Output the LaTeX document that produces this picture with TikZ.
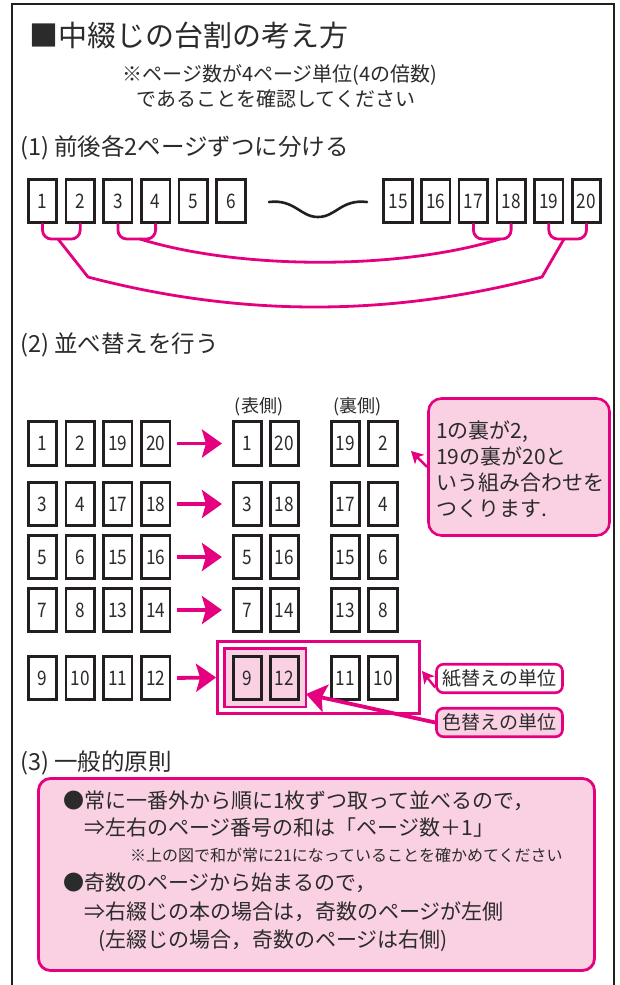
\documentclass[tikz,border=0pt]{standalone}
\usepackage{fontspec}
\setmainfont{Noto Sans CJK JP}
\newfontfamily\numfont[FakeStretch=0.86]{Noto Sans CJK JP}
\usetikzlibrary{arrows.meta,calc}
\definecolor{mag}{HTML}{E4007F}
\definecolor{pinkfill}{HTML}{F9D1E3}
\definecolor{ink}{HTML}{2B2B2B}
\definecolor{boxink}{HTML}{231F20}
\begin{document}
\begin{tikzpicture}[x=1pt, y=-1pt,
  every node/.style={text=ink},
  pagebox/.style={draw=boxink, line width=2.6pt, minimum width=28.5pt, minimum height=43.5pt, inner sep=0pt, font=\numfont\fontsize{20}{20}\selectfont},
  conn/.style={draw=mag, line width=2.8pt, line cap=round, line join=round},
  bigarrow/.style={draw=mag, line width=3.8pt, -{Stealth[length=20pt, width=28pt, inset=4pt]}},
  ptr/.style={draw=mag, line width=2.4pt, -{Stealth[length=12pt, width=13pt, inset=3pt]}},
  unittag/.style={draw=mag, line width=2.6pt, rounded corners=7pt, minimum width=126pt, minimum height=28.5pt, inner sep=0pt, font=\fontsize{19}{19}\selectfont},
  sechead/.style={anchor=west, inner sep=0pt, font=\fontsize{23.5}{23.5}\selectfont},
  sumtext/.style={anchor=west, inner sep=0pt, font=\fontsize{21}{21}\selectfont},
]
\useasboundingbox (0,0) rectangle (619,985);
\fill[white] (0,0) rectangle (619,985);
% frame
\draw[boxink, line width=2pt] (12,985) -- (12,4) -- (614,4) -- (614,985);

% title
\node[anchor=west, inner sep=0pt, font=\fontsize{29}{29}\selectfont] (title) at (29,35) {■中綴じの台割の考え方};
\node[inner sep=0pt, font=\fontsize{20}{20}\selectfont] (sub1) at (280,75) {※ページ数が4ページ単位(4の倍数)};
\node[inner sep=0pt, font=\fontsize{20}{20}\selectfont] (sub2) at (276,99) {であることを確認してください};

% section 1
\node[sechead] (h1) at (20,148) {(1) 前後各2ページずつに分ける};
\foreach \n/\x in {1/42.5, 2/80.2, 3/117.9, 4/155.6, 5/193.3, 6/231, 15/398, 16/435.7, 17/473.4, 18/511.1, 19/548.8, 20/586.5}{
  \node[pagebox] (a\n) at (\x,201) {\n};
}
\draw[boxink, line width=2.6pt, line cap=round] (269,202) .. controls (295,199) and (300,217) .. (318,217) .. controls (336,217) and (341,199) .. (367,202);

\draw[conn, rounded corners=9pt] (a1.south) -- ++(0,15) -| (a2.south);
\draw[conn, rounded corners=9pt] (a3.south) -- ++(0,15) -| (a4.south);
\draw[conn, rounded corners=9pt] (a17.south) -- ++(0,15) -| (a18.south);
\draw[conn, rounded corners=9pt] (a19.south) -- ++(0,15) -| (a20.south);
\coordinate (j12) at (58,239);
\coordinate (j34) at (140,239);
\coordinate (j1718) at (500,239);
\coordinate (j1920) at (564,239);
\coordinate (k1) at (88,277);
\coordinate (k2) at (542,277);
\draw[conn] (j34) .. controls (240,270) and (400,270) .. (j1718);
\draw[conn] (j12) -- (k1) .. controls (240,317) and (390,317) .. (k2) -- (j1920);

% section 2
\node[sechead] (h2) at (20,345) {(2) 並べ替えを行う};
\node[inner sep=0pt, font=\fontsize{18}{18}\selectfont] (omote) at (259,407) {(表側)};
\node[inner sep=0pt, font=\fontsize{18}{18}\selectfont] (ura) at (357.5,407) {(裏側)};

\foreach \r/\y/\a/\b/\c/\d in {1/443.5/1/2/19/20, 2/504/3/4/17/18, 3/557/5/6/15/16, 4/610/7/8/13/14}{
  \node[pagebox] (s\r-a) at (42.5,\y) {\a};
  \node[pagebox] (s\r-b) at (80.2,\y) {\b};
  \node[pagebox] (s\r-c) at (117.9,\y) {\c};
  \node[pagebox] (s\r-d) at (155.6,\y) {\d};
  \node[pagebox] (s\r-e) at (247.5,\y) {\a};
  \node[pagebox] (s\r-f) at (284.5,\y) {\d};
  \node[pagebox] (s\r-g) at (345.5,\y) {\c};
  \node[pagebox] (s\r-h) at (383,\y) {\b};
  \draw[bigarrow, shorten <=6pt, shorten >=10pt] (s\r-d.east) -- (s\r-e.west);
}

% row 5 with highlights
\node[draw=mag, line width=2.8pt, minimum width=202pt, minimum height=72pt, inner sep=0pt] (paper) at (318.5,677.5) {};
\node[draw=mag, fill=pinkfill, line width=2.5pt, minimum width=81.5pt, minimum height=58.5pt, inner sep=0pt] (color) at (265,677.5) {};
\node[pagebox] (s5-a) at (42.5,678) {9};
\node[pagebox] (s5-b) at (80.2,678) {10};
\node[pagebox] (s5-c) at (117.9,678) {11};
\node[pagebox] (s5-d) at (155.6,678) {12};
\node[pagebox, fill=pinkfill] (s5-e) at (247.5,678) {9};
\node[pagebox, fill=pinkfill] (s5-f) at (284.5,678) {12};
\node[pagebox] (s5-g) at (345.5,678) {11};
\node[pagebox] (s5-h) at (383,678) {10};
\draw[bigarrow, shorten <=6pt] (s5-d.east) -- (paper.west);

% callout
\node[draw=mag, fill=pinkfill, line width=2.6pt, rounded corners=13pt, minimum width=181pt, minimum height=137pt, inner sep=0pt] (c1) at (519,467) {};
\node[anchor=west, align=left, inner sep=0pt, font=\fontsize{21}{26}\selectfont] (c1t) at (436,469) {1の裏が2,\\19の裏が20と\\いう組み合わせを\\つくります.};
\coordinate (p1) at (411,451);
\draw[ptr] (c1.west) -- (p1);

% unit tags
\node[unittag, fill=white] (l1) at (499.5,678.5) {紙替えの単位};
\node[unittag, fill=pinkfill] (l2) at (499.5,722.5) {色替えの単位};
\coordinate (p2) at (422,671);
\draw[ptr] ([yshift=-9pt]l1.west) -- (p2);
\coordinate (p3) at (306,694);
\draw[bigarrow] (l2.west) -- (p3);

% section 3
\node[sechead] (h3) at (20,763) {(3) 一般的原則};
\node[draw=mag, fill=pinkfill, line width=2.8pt, rounded corners=12pt, minimum width=556pt, minimum height=192pt, inner sep=0pt] (sum) at (316.5,874.5) {};
\node[sumtext] (t1) at (63,801) {●常に一番外から順に1枚ずつ取って並べるので，};
\node[sumtext] (t2) at (84,828) {⇒左右のページ番号の和は「ページ数＋1」};
\node[anchor=west, inner sep=0pt, font=\fontsize{16}{16}\selectfont] (t3) at (130,855) {※上の図で和が常に21になっていることを確かめてください};
\node[sumtext] (t4) at (63,883) {●奇数のページから始まるので，};
\node[sumtext] (t5) at (84,912) {⇒右綴じの本の場合は，奇数のページが左側};
\node[sumtext] (t6) at (98,941) {(左綴じの場合，奇数のページは右側)};
\end{tikzpicture}
\end{document}
